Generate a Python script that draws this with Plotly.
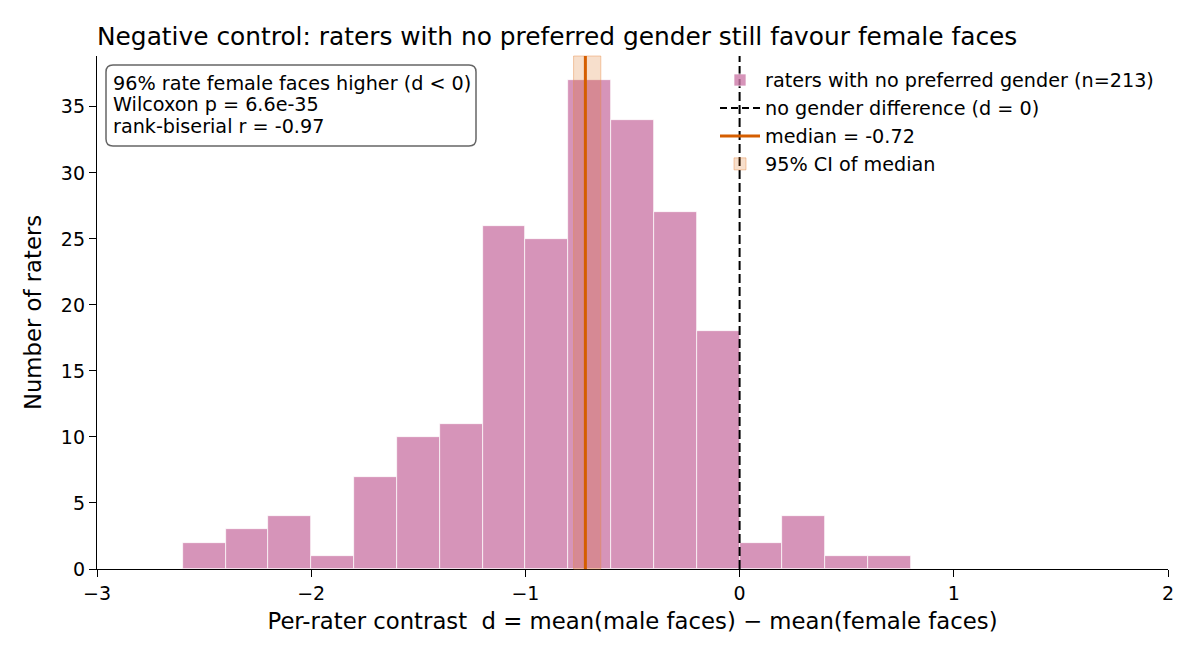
import plotly.graph_objects as go

# Data
bin_left_edges = [-2.6, -2.4, -2.2, -2.0, -1.8, -1.6, -1.4, -1.2, -1.0, -0.8,
                  -0.6, -0.4, -0.2, 0.0, 0.2, 0.4, 0.6]
bin_width = 0.2
counts = [2, 3, 4, 1, 7, 10, 11, 26, 25, 37, 34, 27, 18, 2, 4, 1, 1]
median_d = -0.72
ci_low, ci_high = -0.775, -0.648
x_ticks = [-3, -2, -1, 0, 1, 2]
y_ticks = [0, 5, 10, 15, 20, 25, 30, 35]
stats_lines = ["96% rate female faces higher (d < 0)",
               "Wilcoxon p = 6.6e-35",
               "rank-biserial r = -0.97"]

W, H = 1200, 660
L, R, T, B = 97, 1168, 56, 569
FONT = "DejaVu Sans"

centers = [e + bin_width / 2 for e in bin_left_edges]

fig = go.Figure()
fig.add_trace(go.Bar(
    x=centers, y=counts, width=[bin_width] * len(counts),
    marker=dict(color="rgba(204,121,167,0.8)", line=dict(color="white", width=0.7)),
    name="raters with no preferred gender (n=213)", showlegend=True,
))
fig.add_trace(go.Scatter(
    x=[None], y=[None], mode="lines",
    line=dict(color="black", width=2, dash="7px,4px"),
    name="no gender difference (d = 0)",
))
fig.add_trace(go.Scatter(
    x=[None], y=[None], mode="lines",
    line=dict(color="#d55e00", width=3),
    name=f"median = {median_d:.2f}",
))
fig.add_trace(go.Bar(
    x=[None], y=[None],
    marker=dict(color="rgba(213,94,0,0.2)", line=dict(color="rgba(230,140,70,0.45)", width=1)),
    name="95% CI of median",
))

ymax = max(counts) * 1.05

# CI band
fig.add_shape(type="rect", xref="x", yref="paper", x0=ci_low, x1=ci_high, y0=0, y1=1,
              fillcolor="rgba(213,94,0,0.2)", line=dict(color="rgba(230,140,70,0.45)", width=1),
              layer="above")
# median line
fig.add_shape(type="line", xref="x", yref="paper", x0=median_d, x1=median_d, y0=0, y1=1,
              line=dict(color="#d55e00", width=3), layer="above")
# zero line
fig.add_shape(type="line", xref="x", yref="paper", x0=0, x1=0, y0=0, y1=1,
              line=dict(color="black", width=2, dash="9px,4px"), layer="above")

# rounded stats box (pixel -> paper)
def px(x):
    return (x - L) / (R - L)

def py(y):
    return (B - y) / (B - T)

bx0, bx1, by0, by1, r = 106, 476, 65, 146, 7
path = (f"M {px(bx0 + r)} {py(by0)} L {px(bx1 - r)} {py(by0)} "
        f"Q {px(bx1)} {py(by0)} {px(bx1)} {py(by0 + r)} "
        f"L {px(bx1)} {py(by1 - r)} Q {px(bx1)} {py(by1)} {px(bx1 - r)} {py(by1)} "
        f"L {px(bx0 + r)} {py(by1)} Q {px(bx0)} {py(by1)} {px(bx0)} {py(by1 - r)} "
        f"L {px(bx0)} {py(by0 + r)} Q {px(bx0)} {py(by0)} {px(bx0 + r)} {py(by0)} Z")
fig.add_shape(type="path", xref="paper", yref="paper", path=path,
              fillcolor="white", line=dict(color="#666666", width=1.5), layer="above")
line_centers = [83, 104.5, 126]
for txt, yc in zip(stats_lines, line_centers):
    fig.add_annotation(xref="paper", yref="paper", x=px(111), y=py(yc), xanchor="left",
                       yanchor="middle", text=txt, align="left", showarrow=False,
                       font=dict(family=FONT, size=19.2, color="black"))

fig.update_layout(
    width=W, height=H,
    margin=dict(l=L, r=W - R, t=T, b=H - B),
    plot_bgcolor="white", paper_bgcolor="white",
    font=dict(family=FONT, color="black"),
    bargap=0,
    title=dict(text="Negative control: raters with no preferred gender still favour female faces",
               x=L / W, xanchor="left", y=1 - 36 / H, yanchor="middle",
               font=dict(family=FONT, size=24.85, color="black")),
    xaxis=dict(range=[-3, 2], tickvals=x_ticks, showgrid=False, zeroline=False,
               showline=True, linecolor="black", linewidth=1.3, ticks="outside",
               ticklen=7, tickwidth=1.3, tickcolor="black",
               tickfont=dict(family=FONT, size=19),
               title=dict(text="Per-rater contrast  d = mean(male faces) − mean(female faces)",
                          font=dict(family=FONT, size=22.75), standoff=10)),
    yaxis=dict(range=[0, ymax], tickvals=y_ticks, showgrid=False, zeroline=False,
               showline=True, linecolor="black", linewidth=1.3, ticks="outside",
               ticklen=7, tickwidth=1.3, tickcolor="black",
               tickfont=dict(family=FONT, size=19),
               title=dict(text="Number of raters", font=dict(family=FONT, size=22.75), standoff=12)),
    legend=dict(x=px(715), y=py(61), xanchor="left", yanchor="top",
                bgcolor="rgba(0,0,0,0)", font=dict(family=FONT, size=19.2),
                itemwidth=40, traceorder="normal"),
)

fig.write_html("out.html")
